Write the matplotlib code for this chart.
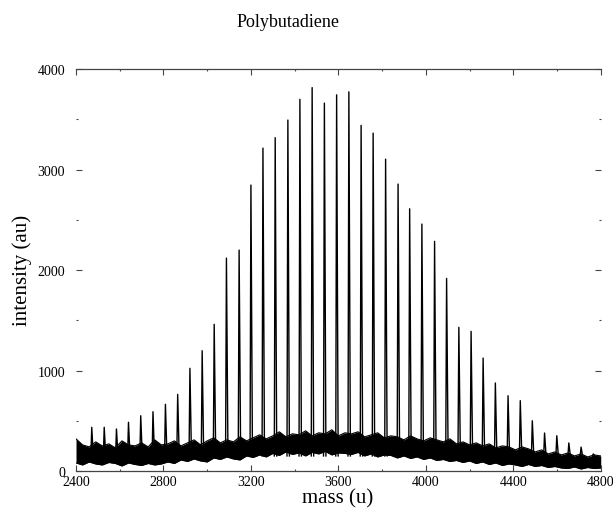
import matplotlib.pyplot as plt
import numpy as np
from matplotlib.ticker import MultipleLocator

# peak positions (u) and heights (au)
peak_mass = [2472, 2529, 2585, 2640, 2696, 2752, 2809, 2865, 2921, 2977,
             3032, 3088, 3146, 3200, 3255, 3311, 3369, 3424, 3480, 3536,
             3592, 3648, 3704, 3759, 3816, 3873, 3926, 3982, 4040, 4095,
             4151, 4207, 4262, 4318, 4376, 4432, 4487, 4543, 4599, 4654,
             4710, 4766]
peak_height = [435, 435, 418, 485, 550, 590, 664, 763, 1022, 1197,
               1460, 2119, 2199, 2846, 3214, 3318, 3493, 3699, 3816, 3662,
               3744, 3774, 3440, 3363, 3104, 2856, 2610, 2458, 2286, 1917,
               1430, 1390, 1124, 876, 749, 700, 500, 378, 351, 279,
               238, 170]

# baseline noise band, sampled every 30 u from 2400 to 4800
noise_mass = np.arange(2400, 4801, 30)
noise_upper = [320, 260, 240, 290, 250, 270, 230, 300, 260, 250, 280, 240, 310, 260,
               270, 300, 250, 280, 310, 260, 300, 330, 280, 310, 290, 340, 300, 330,
               360, 320, 350, 390, 340, 370, 360, 400, 350, 380, 370, 410, 350, 380,
               370, 390, 340, 360, 380, 330, 350, 340, 310, 350, 320, 300, 330, 310,
               290, 320, 270, 290, 260, 280, 250, 270, 230, 250, 240, 210, 240, 220,
               190, 210, 170, 190, 160, 180, 150, 170, 140, 160, 150]
noise_lower = [80, 60, 90, 70, 60, 85, 75, 50, 80, 65, 55, 75, 60, 70,
               90, 75, 110, 95, 120, 100, 90, 130, 115, 140, 120, 110, 150, 135,
               160, 140, 175, 155, 190, 165, 180, 150, 185, 170, 195, 160, 180, 175,
               165, 185, 150, 170, 140, 160, 155, 130, 150, 125, 140, 115, 130, 105,
               115, 95, 105, 85, 100, 75, 90, 65, 80, 55, 70, 60, 45, 65,
               45, 55, 35, 45, 30, 25, 40, 20, 35, 25, 30]

plt.rcParams['font.family'] = ['Liberation Serif', 'DejaVu Serif']

fig = plt.figure(figsize=(6.13, 5.10), dpi=100)
ax = fig.add_axes([0.124, 0.0745, 0.856, 0.788])

ax.fill_between(noise_mass, noise_lower, noise_upper, color='black', lw=0)
ax.plot(noise_mass, noise_upper, color='black', lw=0.8)
ax.plot(noise_mass, noise_lower, color='black', lw=0.8)
for m, h in zip(peak_mass, peak_height):
    ax.plot([m - 4, m, m + 7], [150, h, 150], color='black', lw=1.0)

ax.set_xlim(2400, 4800)
ax.set_ylim(0, 4000)
ax.xaxis.set_major_locator(MultipleLocator(400))
ax.xaxis.set_minor_locator(MultipleLocator(200))
ax.yaxis.set_major_locator(MultipleLocator(1000))
ax.yaxis.set_minor_locator(MultipleLocator(500))
ax.tick_params(which='both', direction='in', top=True, right=True,
               colors='#444444', labelcolor='black', labelsize=10, width=0.8)
ax.tick_params(which='major', length=4)
ax.tick_params(which='minor', length=1.5)
ax.tick_params(axis='x', pad=3)
ax.tick_params(axis='y', pad=8)
for s in ['left', 'right']:
    ax.spines[s].set_visible(False)
for s in ['top', 'bottom']:
    ax.spines[s].set_color('#444444')
    ax.spines[s].set_linewidth(0.9)

fig.text(0.47, 0.955, 'Polybutadiene', ha='center', va='center', fontsize=13)
fig.text(0.5514, 0.022, 'mass (u)', ha='center', va='center', fontsize=15)
fig.text(0.036, 0.47, 'intensity (au)', ha='center', va='center',
         rotation=90, fontsize=15)

fig.savefig('out.png', dpi=100)
